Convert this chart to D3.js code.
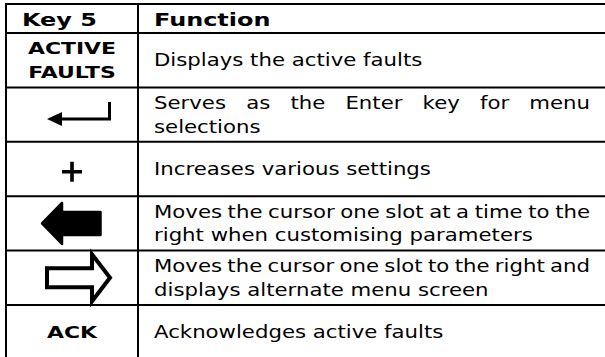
<!DOCTYPE html>
<html><head><meta charset="utf-8">
<script src="https://cdn.jsdelivr.net/npm/d3@7"></script>
<style>html,body{margin:0;padding:0;background:#fff;} svg{display:block}</style>
</head><body><svg id="c" width="605" height="357"></svg>
<script>
// ---- data ----
const headers = ["Key 5", "Function"];
const keyTypes = ["text", "enter", "plus", "leftBlock", "rightOutline", "text"];
const keyTexts = [["ACTIVE", "FAULTS"], [], [], [], [], ["ACK"]];
const functionLines = [
  ["Displays the active faults"],
  ["Serves as the Enter key for menu", "selections"],
  ["Increases various settings"],
  ["Moves the cursor one slot at a time to the", "right when customising parameters"],
  ["Moves the cursor one slot to the right and", "displays alternate menu screen"],
  ["Acknowledges active faults"]
];

// ---- layout ----
const W = 605, H = 357;
const FONT = "'DejaVu Sans', Verdana, sans-serif";
const bodySize = 17, bodySX = 1.25;
const boldSX = 1.33;
const headSize = 18, keySize = 16.5;
const lineH = 23.8;
const colEdges = [6, 138, 607];
const headTop = 4, headBot = 33, rowH = 54.4;
const padL = 16, padR = 15;

const svg = d3.select("#c");
svg.append("rect").attr("width", W).attr("height", H).attr("fill", "#fff");

const y = d3.scaleBand().domain(d3.range(keyTypes.length))
  .range([headBot, headBot + rowH * keyTypes.length]).padding(0);
const tableBottom = headBot + rowH * keyTypes.length;

const g = svg.append("g");

// grid lines
const hLines = [headTop, headBot].concat(d3.range(keyTypes.length).map(i => y(i) + y.bandwidth()));
g.selectAll("line.h").data(hLines).join("line").attr("class", "h")
  .attr("x1", colEdges[0] - 1).attr("x2", colEdges[2] + 1)
  .attr("y1", d => d).attr("y2", d => d)
  .attr("stroke", "#000").attr("stroke-width", 2);
g.selectAll("line.v").data(colEdges).join("line").attr("class", "v")
  .attr("x1", d => d).attr("x2", d => d)
  .attr("y1", headTop - 1).attr("y2", tableBottom + 1)
  .attr("stroke", "#000").attr("stroke-width", 2);

function addText(parent, str, x, yb, size, weight, sx, anchor) {
  const t = parent.append("text")
    .attr("transform", `translate(${x},${yb}) scale(${sx},1)`)
    .attr("font-family", FONT).attr("font-size", size).attr("font-weight", weight)
    .attr("fill", "#000").attr("text-anchor", anchor || "start")
    .text(str);
  return t;
}

// header
const headMid = (headTop + headBot) / 2;
const headBase = headMid + headSize * 0.729 / 2 + 1;
addText(g, headers[0], colEdges[0] + padL, headBase, headSize, "bold", boldSX);
addText(g, headers[1], colEdges[1] + padL, headBase, headSize, "bold", boldSX);

// body rows
const textW = colEdges[2] - colEdges[1] - padL - padR - 2;
functionLines.forEach((lines, i) => {
  const mid = y(i) + y.bandwidth() / 2;
  const n = lines.length;
  lines.forEach((ln, j) => {
    const capMid = mid + (j - (n - 1) / 2) * lineH;
    const base = capMid + bodySize * 0.729 / 2;
    const t = addText(g, ln, colEdges[1] + padL, base, bodySize, "normal", bodySX);
    if (n > 1 && j < n - 1) {
      const natural = t.node().getComputedTextLength();
      const spaces = (ln.match(/ /g) || []).length;
      const ws = (textW / bodySX - natural) / spaces;
      t.attr("word-spacing", ws);
    }
  });
});

// key column
const cx = (colEdges[0] + colEdges[1]) / 2;
keyTypes.forEach((type, i) => {
  const mid = y(i) + y.bandwidth() / 2;
  const kg = g.append("g").attr("transform", `translate(${cx},${mid})`);
  if (type === "text") {
    const lines = keyTexts[i];
    const n = lines.length;
    lines.forEach((ln, j) => {
      const base = (j - (n - 1) / 2) * 24.5 + keySize * 0.729 / 2;
      addText(kg, ln, 0, base, keySize, "bold", boldSX, "middle");
    });
  } else if (type === "enter") {
    kg.append("path").attr("d", "M-12,4.5 H37.5 V-12.5")
      .attr("fill", "none").attr("stroke", "#000").attr("stroke-width", 3);
    kg.append("path").attr("d", "M-25,4.5 L-10,-2.5 L-10,11.5 Z").attr("fill", "#000");
  } else if (type === "plus") {
    kg.append("path").attr("d", "M-10,2.7 H10 M0,-7.3 V12.7")
      .attr("fill", "none").attr("stroke", "#000").attr("stroke-width", 3.6);
  } else if (type === "leftBlock") {
    kg.append("path")
      .attr("d", "M-30,0 L-10,-20.5 L-10,-11.5 L28.5,-11.5 L28.5,11.5 L-10,11.5 L-10,20.5 Z")
      .attr("fill", "#000").attr("stroke", "#000").attr("stroke-width", 2.5)
      .attr("stroke-linejoin", "round");
  } else if (type === "rightOutline") {
    kg.append("path")
      .attr("d", "M-25,-9.5 L20,-9.5 L20,-23.5 L38,0 L20,23.5 L20,9.5 L-25,9.5 Z")
      .attr("fill", "none").attr("stroke", "#000").attr("stroke-width", 4)
      .attr("stroke-linejoin", "miter");
  }
});
</script>
</body></html>
